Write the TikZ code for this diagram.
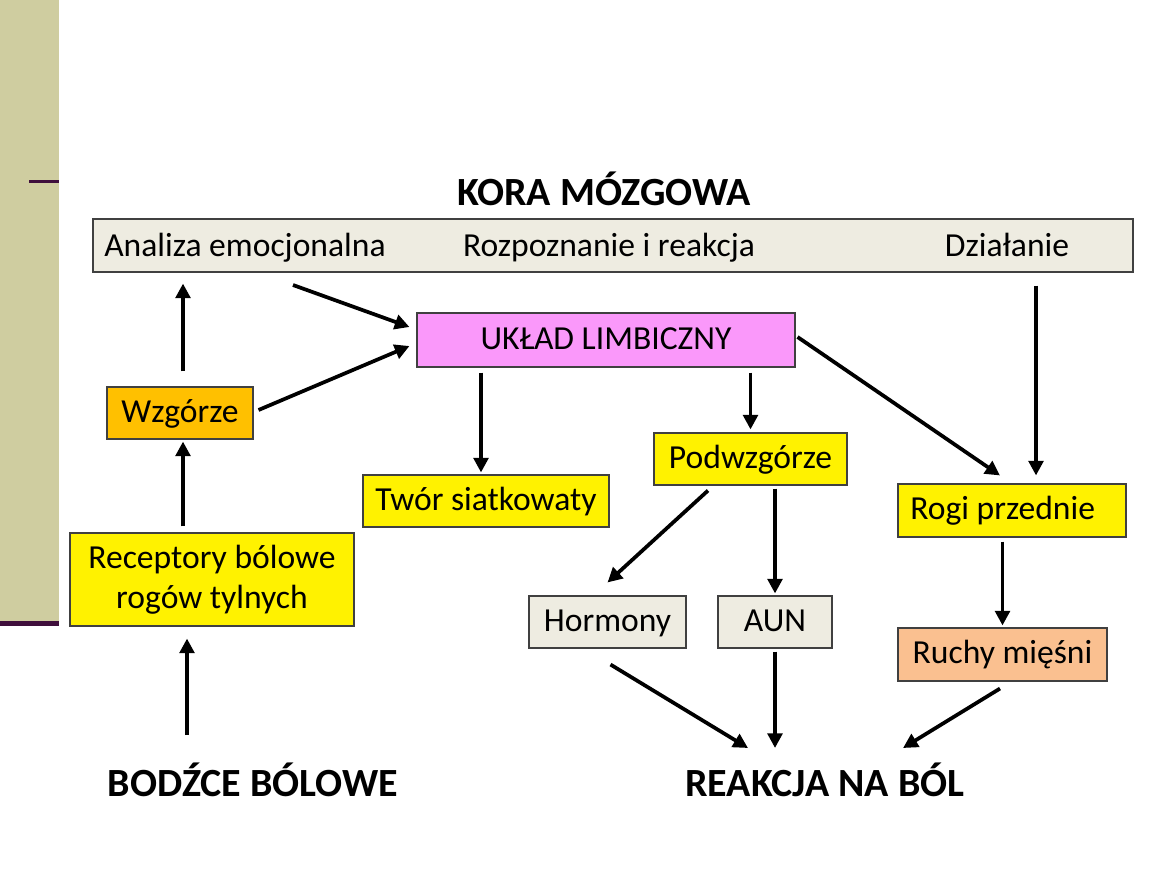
\documentclass[tikz,border=0pt]{standalone}
\usepackage{fontspec}
\setmainfont{Carlito}
\usetikzlibrary{arrows.meta,calc}
\definecolor{khaki}{RGB}{207,205,160}
\definecolor{plum}{RGB}{63,15,60}
\definecolor{paper}{RGB}{238,236,225}
\definecolor{violet}{RGB}{250,152,250}
\definecolor{amber}{RGB}{255,192,0}
\definecolor{peach}{RGB}{250,192,144}

\begin{document}
\begin{tikzpicture}[x=0.75pt,y=-0.75pt,
    box/.style={draw=black!75,line width=0.8pt,inner sep=0pt,
      font=\fontsize{25.2pt}{30pt}\selectfont,align=center},
    oneline/.style={box,text height=18.5pt,text depth=5pt},
    label/.style={font=\fontsize{25.2pt}{30pt}\selectfont,anchor=base},
    head/.style={font=\fontsize{30pt}{36pt}\selectfont\bfseries},
    arr/.style={line width=2.8pt,-{Triangle[length=11pt,width=11pt]}}]
  \useasboundingbox (0,0) rectangle (1169,878);
  \fill[khaki] (0,0) rectangle (59,624);
  \fill[plum] (0,621) rectangle (59,626);
  \fill[plum] (29,180) rectangle (59,183);

  \node[head] (title) at (604,189) {KORA MÓZGOWA};
  \node[box,fill=paper,minimum width=780pt,minimum height=39.75pt] (kora) at (613,245.5) {};
  \node[label] (anal) at (245,256) {Analiza emocjonalna};
  \node[label] (rozp) at (609,256) {Rozpoznanie i reakcja};
  \node[label] (dzial) at (1007,256) {Działanie};

  \node[oneline,fill=violet,minimum width=283.5pt,minimum height=40.5pt] (limb) at (606,340) {UKŁAD LIMBICZNY};
  \node[oneline,fill=amber,minimum width=109.5pt,minimum height=39pt] (wzg) at (180,413) {Wzgórze};
  \node[box,fill=yellow,minimum width=213pt,minimum height=69.75pt] (rec) at (212,579.5) {Receptory bólowe\\rogów tylnych};
  \node[oneline,fill=yellow,minimum width=184.5pt,minimum height=39pt] (twor) at (486,501) {Twór siatkowaty};
  \node[oneline,fill=yellow,minimum width=144.75pt,minimum height=39pt] (podw) at (750.5,459) {Podwzgórze};
  \node[oneline,fill=yellow,minimum width=171pt,minimum height=39.75pt] (rogi) at (1012,510.5) {Rogi przednie\hspace*{14pt}};
  \node[oneline,fill=paper,minimum width=117.75pt,minimum height=39pt] (horm) at (607.5,622) {Hormony};
  \node[oneline,fill=paper,minimum width=85.5pt,minimum height=39pt] (aun) at (775,622) {AUN};
  \node[oneline,fill=peach,minimum width=156.75pt,minimum height=39.75pt] (ruchy) at (1002.5,654.5) {Ruchy mięśni};

  \node[head] (bodz) at (253,780) {BODŹCE BÓLOWE};
  \node[head] (reak) at (825,780) {REAKCJA NA BÓL};

  % droga czuciowa
  \draw[arr] ($(bodz.center)+(-66,-45)$) -- ($(rec.south)+(-25,12)$);
  \draw[arr] ($(wzg.south |- rec.north)+(3,-6)$) -- ($(wzg.south)+(3,2)$);
  \draw[arr] ($(wzg.north)+(3,-15)$) -- ($(wzg.north |- kora.south)+(3,11)$);
  \draw[arr] ($(anal.base)+(48,29)$) -- ($(limb.west)+(-7,-13)$);
  \draw[arr] ($(wzg.east)+(5,-3)$) -- ($(limb.west)+(-7,6)$);

  % odpowiedz
  \draw[arr] ($(twor.north |- limb.south)+(-5,5)$) -- ($(twor.north)+(-5,-2)$);
  \draw[arr] ($(podw.north |- limb.south)+(0,5)$) -- ($(podw.north)+(0,-3)$);
  \draw[arr] ($(limb.east)+(2,-3)$) -- ($(rogi.north)+(-12,-8)$);
  \draw[arr] ($(rogi.north |- kora.south)+(24,13)$) -- ($(rogi.north)+(24,-8)$);
  \draw[arr] ($(podw.south)+(-42.5,5)$) -- ($(horm.north)+(0,-13)$);
  \draw[arr] ($(aun.north |- podw.south)+(0,3)$) -- ($(aun.north)+(0,-2)$);
  \draw[arr] ($(ruchy.north |- rogi.south)+(0,4)$) -- ($(ruchy.north)+(0,-2)$);
  \draw[arr] ($(horm.south)+(3,16)$) -- ($(reak.center)+(-77,-32)$);
  \draw[arr] ($(aun.south)+(0,3)$) -- ($(aun.south |- reak.center)+(0,-32)$);
  \draw[arr] ($(ruchy.south)+(-2.5,7)$) -- ($(reak.center)+(78,-32)$);
\end{tikzpicture}
\end{document}
